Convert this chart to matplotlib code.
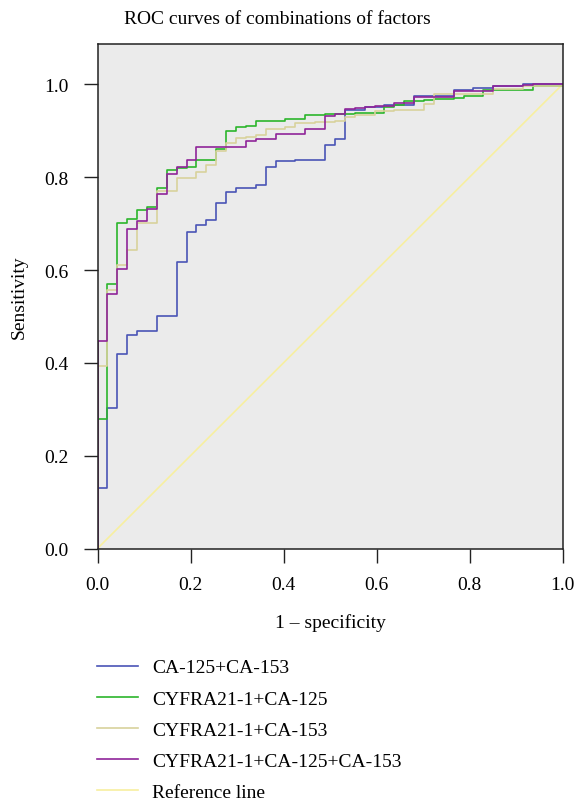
import numpy as np
import matplotlib
matplotlib.use("Agg")
import matplotlib.pyplot as plt

plt.rcParams['font.family'] = ['Liberation Serif', 'DejaVu Serif']

# number of negative cases -> 1 - specificity step size
N_NEG = 47

# steps: (false positive count, sensitivity after the rise)
blue_k = [0, 1, 2, 3, 4, 6, 8, 9, 10, 11, 12, 13, 14, 16, 17, 18, 20, 23, 24,
          25, 27, 29, 32, 36, 38, 40, 43, 47]
blue_tpr = [0.131, 0.302, 0.420, 0.461, 0.468, 0.502, 0.618, 0.683, 0.697,
            0.708, 0.745, 0.768, 0.776, 0.783, 0.822, 0.835, 0.837, 0.869,
            0.883, 0.945, 0.952, 0.955, 0.974, 0.988, 0.993, 0.997, 1.0, 1.0]

green_k = [0, 1, 2, 3, 4, 5, 6, 7, 8, 9, 10, 12, 13, 14, 15, 16, 19, 21, 23,
           26, 29, 30, 31, 33, 34, 36, 37, 38, 39, 44, 47]
green_tpr = [0.280, 0.569, 0.702, 0.710, 0.729, 0.736, 0.777, 0.816, 0.820,
             0.823, 0.838, 0.861, 0.900, 0.908, 0.911, 0.921, 0.925, 0.933,
             0.936, 0.939, 0.951, 0.955, 0.964, 0.966, 0.968, 0.970, 0.975,
             0.976, 0.988, 0.997, 1.0]

tan_k = [0, 1, 2, 3, 4, 6, 8, 10, 11, 12, 13, 14, 15, 16, 17, 19, 20, 22, 24,
         25, 26, 28, 30, 33, 34, 40, 43, 47]
tan_tpr = [0.394, 0.558, 0.610, 0.643, 0.702, 0.770, 0.799, 0.812, 0.827,
           0.857, 0.873, 0.884, 0.886, 0.891, 0.903, 0.908, 0.917, 0.920,
           0.921, 0.929, 0.935, 0.942, 0.945, 0.957, 0.980, 0.990, 0.997, 1.0]

purple_k = [0, 1, 2, 3, 4, 5, 6, 7, 8, 9, 10, 15, 16, 18, 21, 23, 24, 25, 26,
            27, 28, 30, 32, 36, 40, 43, 44, 47]
purple_tpr = [0.448, 0.549, 0.603, 0.688, 0.706, 0.731, 0.764, 0.807, 0.823,
              0.838, 0.866, 0.879, 0.883, 0.894, 0.904, 0.931, 0.936, 0.947,
              0.949, 0.951, 0.954, 0.960, 0.972, 0.985, 0.997, 0.999, 1.0, 1.0]

labels = ['CA-125+CA-153', 'CYFRA21-1+CA-125', 'CYFRA21-1+CA-153',
          'CYFRA21-1+CA-125+CA-153', 'Reference line']
colors = ['#4a54b6', '#2cb52c', '#d8d29c', '#8f2499', '#f7efa0']

fig = plt.figure(figsize=(5.75, 8.03), dpi=100)
ax = fig.add_axes([97.5 / 575, 1 - 549.5 / 803, 465 / 575, 504.5 / 803])
ax.set_facecolor('#ebebeb')

curves = [(blue_k, blue_tpr), (green_k, green_tpr),
          (tan_k, tan_tpr), (purple_k, purple_tpr)]
handles = []
for (k, tpr), c, lab in zip(curves, colors[:4], labels[:4]):
    x = np.concatenate([[0.0], np.array(k) / N_NEG])
    y = np.concatenate([[0.0], tpr])
    h, = ax.plot(x, y, drawstyle='steps-post', color=c, lw=1.2, label=lab)
    handles.append(h)
h, = ax.plot([0, 1], [0, 1], color=colors[4], lw=1.2, label=labels[4], zorder=1)
handles.append(h)

ax.set_xlim(0, 1)
ax.set_ylim(0, 1.087)
ax.set_xticks(np.arange(0, 1.01, 0.2))
ax.set_yticks(np.arange(0, 1.01, 0.2))
ax.set_xticklabels(['0.0', '0.2', '0.4', '0.6', '0.8', '1.0'])
ax.set_yticklabels(['0.0', '0.2', '0.4', '0.6', '0.8', '1.0'])
ax.tick_params(axis='x', pad=10)
ax.tick_params(axis='y', pad=11)
ax.tick_params(length=10, width=1.0, labelsize=14, color='#222222')
for s in ax.spines.values():
    s.set_linewidth(1.1)
    s.set_color('#222222')

ax.set_xlabel('1 – specificity', fontsize=14, labelpad=14)
ax.set_ylabel('Sensitivity', fontsize=14, labelpad=12)
fig.text(277 / 575, 1 - 20 / 803, 'ROC curves of combinations of factors',
         fontsize=14, ha='center', va='center')

fig.legend(handles=handles, loc='upper left',
           bbox_to_anchor=(89 / 575, 1 - 652 / 803), frameon=False,
           fontsize=14, handlelength=2.1, handletextpad=0.75,
           labelspacing=0.7, borderaxespad=0)

fig.savefig('out.png', dpi=100)
